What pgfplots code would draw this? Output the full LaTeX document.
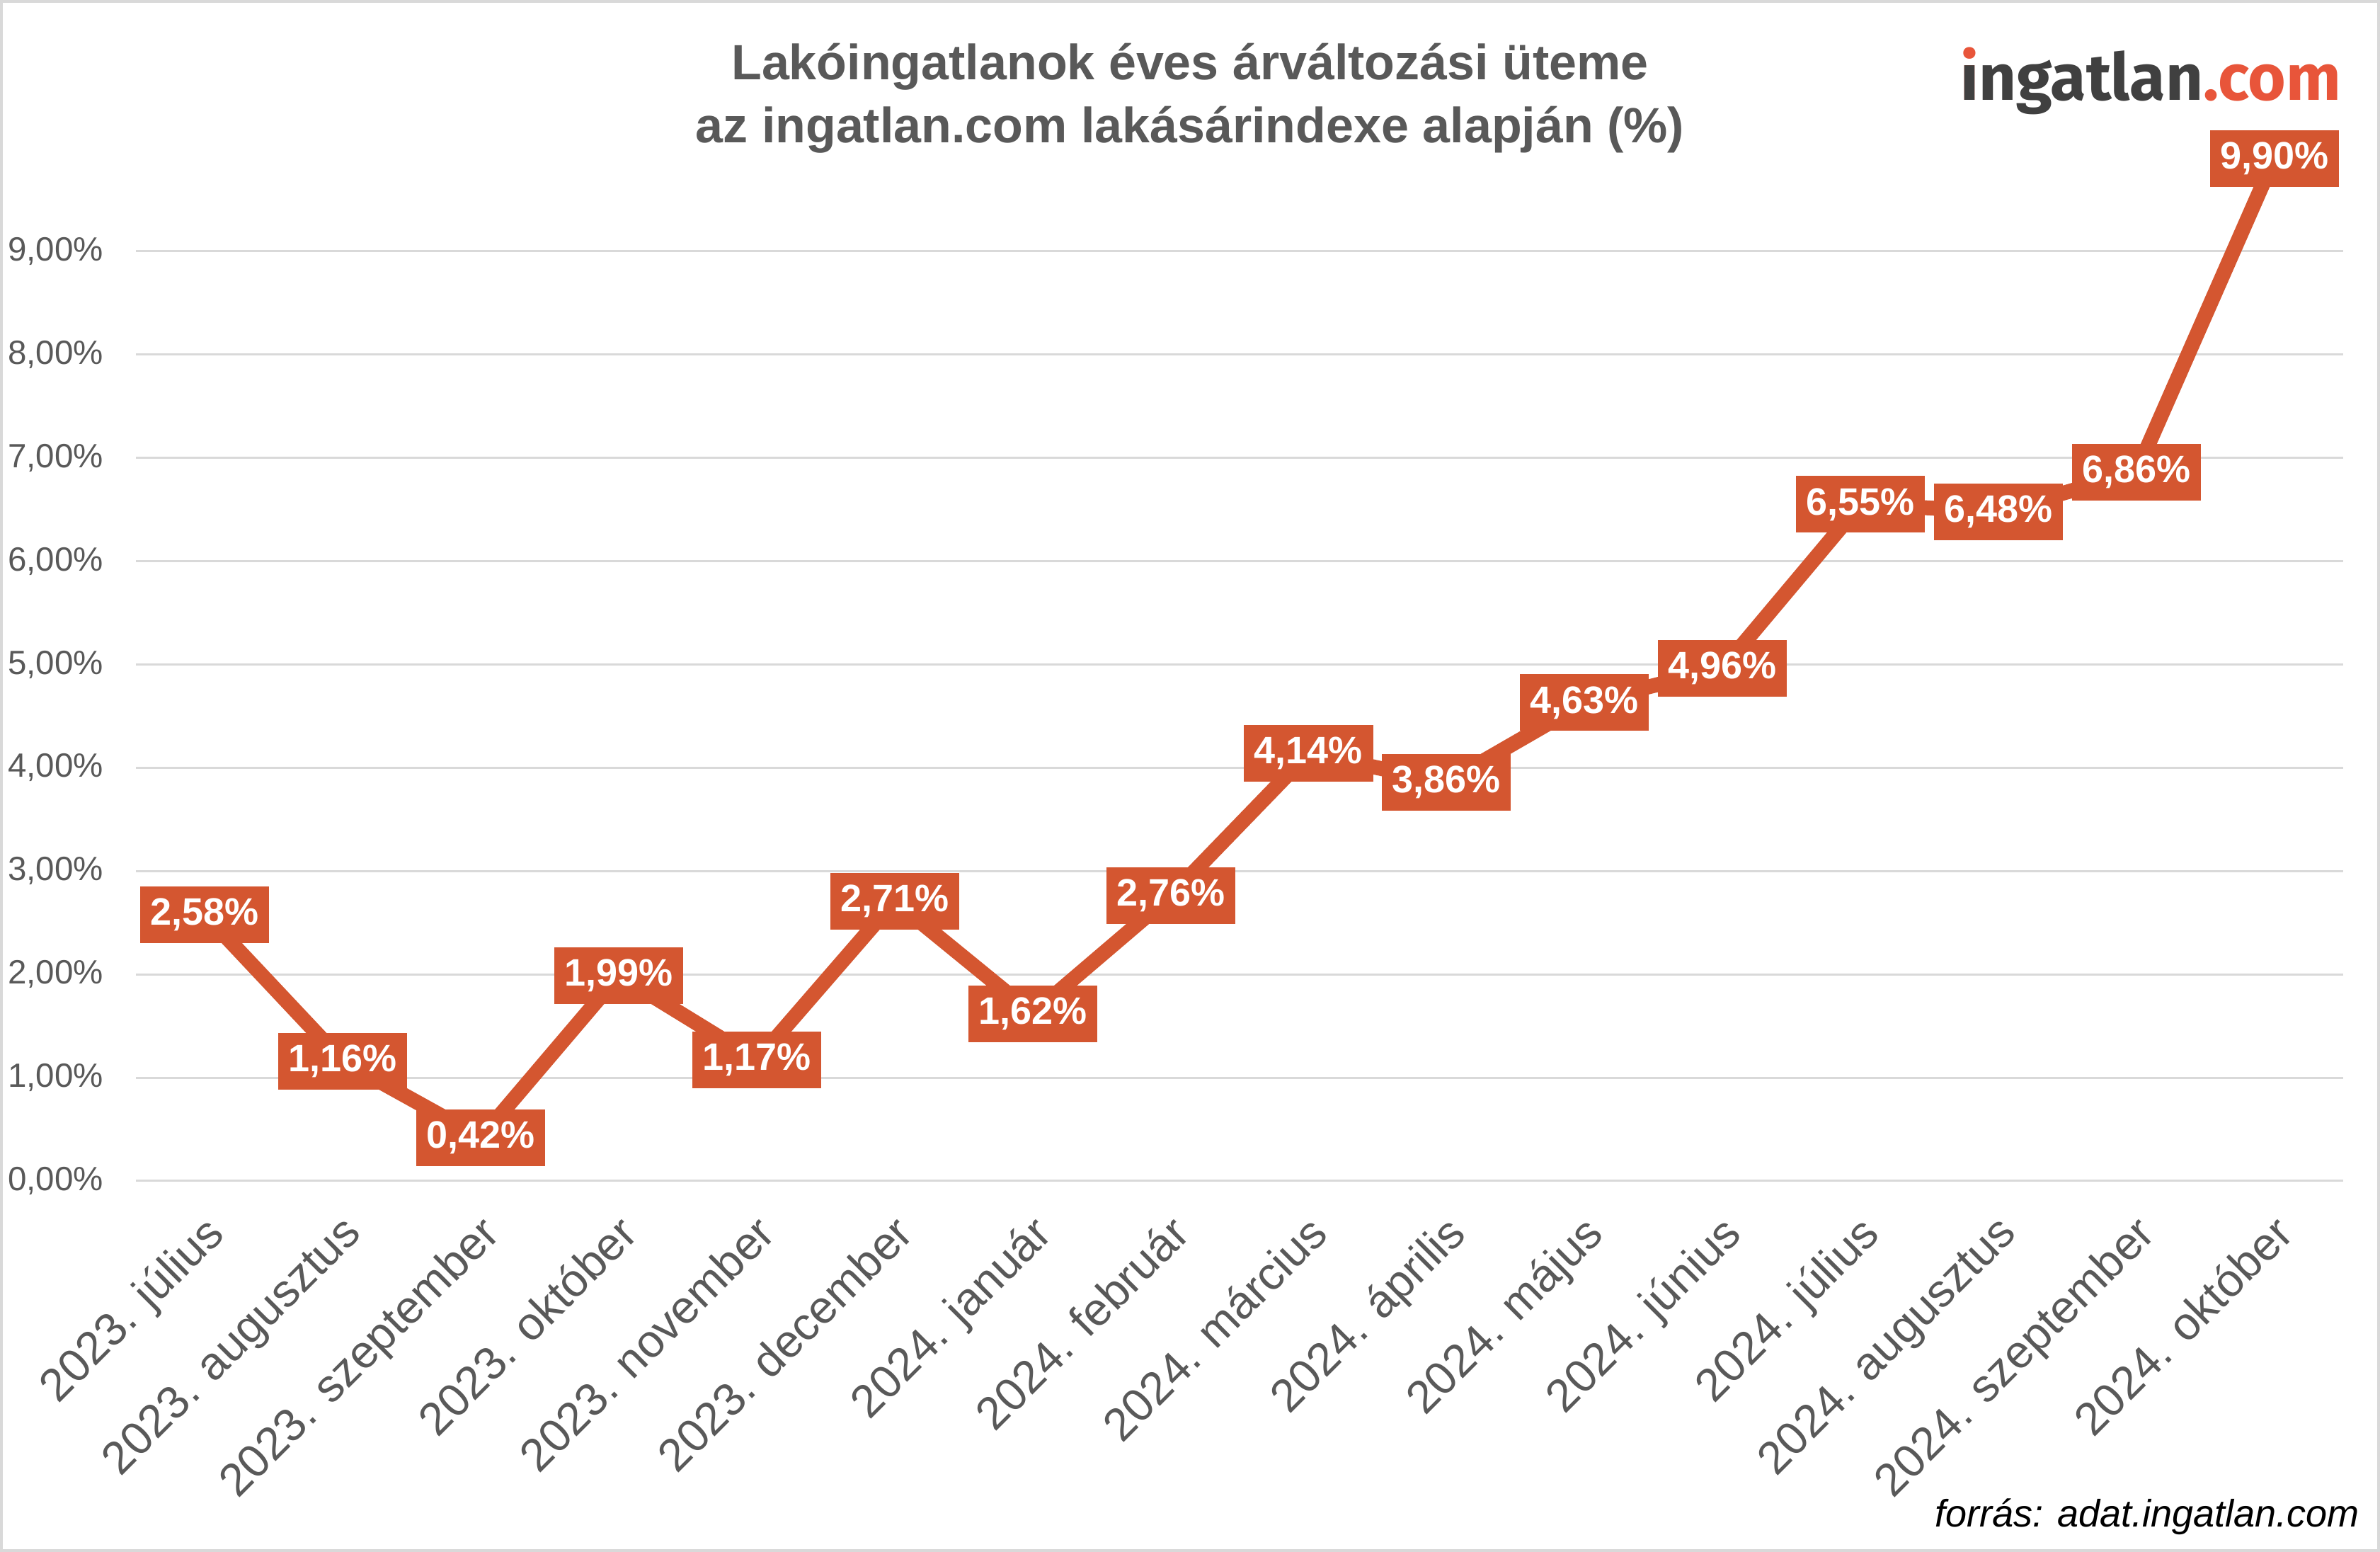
\documentclass[border=0pt]{standalone}
\usepackage{pgfplots}
\pgfplotsset{compat=1.18}
\usepackage{fontspec}
\setmainfont{Liberation Sans}
\newfontfamily\logofont{Fira Sans}
\definecolor{linec}{RGB}{212,86,48}
\definecolor{txtgray}{RGB}{89,89,89}
\definecolor{gridc}{RGB}{217,217,217}
\definecolor{logogray}{RGB}{64,64,64}
\definecolor{logoor}{RGB}{232,85,58}
\begin{document}
\begin{tikzpicture}
\useasboundingbox (0,0) rectangle (672.4pt,438.4pt);
\fill[white] (0,0) rectangle (672.4pt,438.4pt);
\draw[gridc, line width=0.8pt] (0.4pt,0.4pt) rectangle (672pt,438pt);
\begin{axis}[
  at={(38.4pt,104.8pt)}, anchor=south west,
  scale only axis, width=623.6pt, height=291.8pt,
  xmin=-0.5, xmax=15.5, ymin=0, ymax=10,
  clip=false,
  axis line style={draw=none},
  tick style={draw=none},
  major tick length=0pt,
  ymajorgrids, grid style={gridc, line width=0.6pt},
  ytick={0,1,2,3,4,5,6,7,8,9},
  yticklabels={{0,00\%},{1,00\%},{2,00\%},{3,00\%},{4,00\%},{5,00\%},{6,00\%},{7,00\%},{8,00\%},{9,00\%}},
  yticklabel style={inner sep=0pt, xshift=-9pt, text=txtgray, font=\fontsize{9.5}{11}\selectfont},
  xtick={0,1,2,3,4,5,6,7,8,9,10,11,12,13,14,15},
  xticklabels={{2023. július},{2023. augusztus},{2023. szeptember},{2023. október},{2023. november},{2023. december},{2024. január},{2024. február},{2024. március},{2024. április},{2024. május},{2024. június},{2024. július},{2024. augusztus},{2024. szeptember},{2024. október}},
  xticklabel style={inner sep=0pt, xshift=-0.8pt, yshift=-8.6pt, rotate=45, anchor=north east, text=txtgray, font=\fontsize{13}{15}\selectfont},
]
\addplot[linec, line width=4.2pt, line join=round, mark=none,
  nodes near coords, point meta=explicit symbolic,
  every node near coord/.append style={anchor=center, fill=linec, text=white,
    font=\fontsize{10.8}{12}\selectfont\bfseries, inner xsep=2.9pt, inner ysep=0pt,
    minimum height=16pt}]
coordinates {
(0,2.58) [2,58\%]
(1,1.16) [1,16\%]
(2,0.42) [0,42\%]
(3,1.99) [1,99\%]
(4,1.17) [1,17\%]
(5,2.71) [2,71\%]
(6,1.62) [1,62\%]
(7,2.76) [2,76\%]
(8,4.14) [4,14\%]
(9,3.86) [3,86\%]
(10,4.63) [4,63\%]
(11,4.96) [4,96\%]
(12,6.55) [6,55\%]
(13,6.48) [6,48\%]
(14,6.86) [6,86\%]
(15,9.90) [9,90\%]
};
\end{axis}
\node[anchor=base, inner sep=0pt, text=txtgray, font=\fontsize{14}{17}\selectfont\bfseries] at (336.2pt,415.8pt) {Lakóingatlanok éves árváltozási üteme};
\node[anchor=base, inner sep=0pt, text=txtgray, font=\fontsize{14}{17}\selectfont\bfseries] at (336.2pt,398pt) {az ingatlan.com lakásárindexe alapján (\%)};
\node[anchor=base east, inner sep=0pt, font=\logofont\bfseries\fontsize{18.4}{22}\selectfont] at (661.6pt,410pt) {\rlap{\textcolor{logoor}{i}}\textcolor{logogray}{ı}\textcolor{logogray}{ngatlan}\textcolor{logoor}{.com}};
\node[anchor=base east, inner sep=0pt, font=\fontsize{10.8}{13}\selectfont\itshape] at (666.8pt,7pt) {forrás: adat.ingatlan.com};
\end{tikzpicture}
\end{document}
